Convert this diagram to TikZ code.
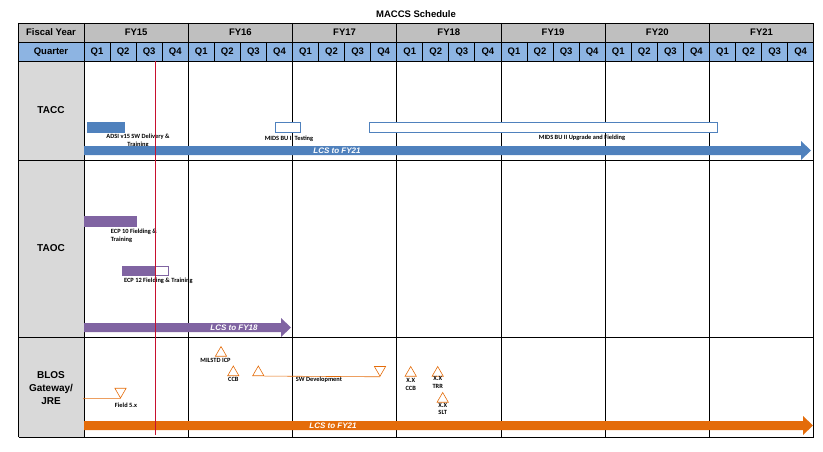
\documentclass[tikz,border=0pt]{standalone}
\usepackage{fontspec}
\setmainfont{Liberation Sans}
\newfontfamily\notefont{Carlito}
\usetikzlibrary{shapes.geometric}

\definecolor{fygray}{HTML}{BFBFBF}
\definecolor{rowgray}{HTML}{D9D9D9}
\definecolor{qtrblue}{HTML}{8DB4E2}
\definecolor{taccblue}{HTML}{4F81BD}
\definecolor{taocpurple}{HTML}{8064A2}
\definecolor{blosorange}{HTML}{E46C0A}
\definecolor{todayred}{HTML}{C8102E}

\tikzset{
  grid line/.style={line width=0.9pt},
  hdr/.style={font=\bfseries\fontsize{9.5}{11}\selectfont, inner sep=0pt},
  row label/.style={font=\bfseries\fontsize{10}{13}\selectfont, align=center, inner sep=0pt},
  note/.style={font=\notefont\bfseries\fontsize{6.4}{7.8}\selectfont, align=center, inner sep=0pt},
  lcs text/.style={font=\bfseries\itshape\fontsize{8}{9}\selectfont, text=white, inner sep=0pt},
  done bar/.style={fill=#1, draw=#1, line width=0.6pt},
  plan bar/.style={fill=white, draw=#1, line width=0.6pt},
  mile up/.style={regular polygon, regular polygon sides=3, draw=blosorange, fill=white,
    minimum size=13pt, inner sep=0pt, line width=0.6pt},
  mile down/.style={mile up, shape border rotate=180},
}

\begin{document}
\begin{tikzpicture}[x=1pt, y=-1pt]
  \useasboundingbox (0,0) rectangle (823,452);
  % header and label column
  \fill[fygray]  (18.7,23) rectangle (813.7,42);
  \fill[qtrblue] (18.7,42) rectangle (813.7,61);
  \fill[rowgray] (18.7,61) rectangle (84,437);
  \node[hdr] (title) at (416,14) {MACCS Schedule};
  \node[hdr] (fyhdr) at (51,32.5) {Fiscal Year};
  \node[hdr] (qhdr)  at (51,51.8) {Quarter};
  \foreach \yr [count=\i from 0] in {15,...,21}{
    \node[hdr] (fy\yr) at ({84+104.24*(\i+0.5)},32.5) {FY\yr};
    \foreach \q in {1,...,4}
      \node[hdr] (q\yr\q) at ({84+104.24*\i+26.06*(\q-0.5)},52) {Q\q};
  }
  % grid
  \foreach \yy in {23,42,61,160,337,437}
    \draw[grid line] (18.7,\yy) -- (813.7,\yy);
  \draw[grid line] (18.7,23) -- (18.7,437);
  \foreach \k in {0,...,7}
    \draw[grid line] ({84+104.24*\k},23) -- ({84+104.24*\k},437);
  \foreach \k in {1,...,27}
    \draw[grid line] ({84+26.06*\k},42) -- ({84+26.06*\k},61);

  \node[row label] (tacc) at (51,110.5) {TACC};
  \node[row label] (taoc) at (51,248.5) {TAOC};
  \node[row label] (blos) at (51,388) {BLOS\\Gateway/\\JRE};

  % TACC
  \draw[done bar=taccblue] (87,122) rectangle (124,132.5);
  \draw[plan bar=taccblue] (275,122) rectangle (300.7,132.5);
  \draw[plan bar=taccblue] (369,122) rectangle (717.7,132.5);
  \node[note] (adsi)  at (138,140.5) {ADSI v15 SW Delivery \&\\Training};
  \node[note] (mids1) at (289,139)   {MIDS BU II Testing};
  \node[note] (mids2) at (582,138)   {MIDS BU II Upgrade and Fielding};

  % TAOC
  \draw[done bar=taocpurple] (84,216.7) rectangle (136,226.7);
  \draw[done bar=taocpurple] (122,266) rectangle (155.3,275.7);
  \draw[plan bar=taocpurple] (155.3,266) rectangle (168.3,275.7);
  \node[note, anchor=west, align=left] (ecp10) at (110.7,236) {ECP 10 Fielding \&\\Training};
  \node[note] (ecp12) at (158.3,280.5) {ECP 12 Fielding \& Training};

  % BLOS Gateway/JRE
  \node[mile down] (fld) at (120.5,391.5) {};
  \coordinate (fld start) at (83,398.7);
  \draw[blosorange, line width=0.6pt] (fld start) -- (fld.corner 1);
  \node[note] (fld lbl) at (126,405) {Field 5.x};
  \node[mile up] (icp) at (221,353) {};
  \node[note] (icp lbl) at (215.5,360.5) {MILSTD ICP};
  \node[mile up] (ccb1) at (233.3,372.5) {};
  \node[note] (ccb1 lbl) at (233.3,379.5) {CCB};
  \node[mile up] (swd start) at (258.3,372.5) {};
  \node[mile down] (swd end) at (380,369.7) {};
  \draw[blosorange, line width=0.6pt] (swd start.corner 3) -- (swd end.corner 1);
  \node[note] (swd lbl) at (319,380) {SW Development};
  \node[mile up] (ccb2) at (410.7,373) {};
  \node[note] (ccb2 lbl) at (410.7,384.5) {X.X\\CCB};
  \node[mile up] (trr) at (437.7,373) {};
  \node[note] (trr lbl) at (437.7,382.5) {X.X\\TRR};
  \node[mile up] (slt) at (442.7,399) {};
  \node[note] (slt lbl) at (442.7,409) {X.X\\SLT};

  % LCS arrows
  \foreach \nm/\col/\yc/\tip/\lx/\fy in {lcsa/taccblue/150.5/811/337/FY21,
      lcsb/taocpurple/327.5/291/234/FY18, lcsc/blosorange/425.5/813/333/FY21}{
    \fill[\col] (84,\yc-4.5) -- (\tip-10,\yc-4.5) -- (\tip-10,\yc-9.5) -- (\tip,\yc)
      -- (\tip-10,\yc+9.5) -- (\tip-10,\yc+4.5) -- (84,\yc+4.5) -- cycle;
    \node[lcs text] (\nm) at (\lx,\yc) {LCS to \fy};
  }

  % status line
  \draw[todayred, line width=0.7pt] (155.3,61) -- (155.3,435);
\end{tikzpicture}
\end{document}
